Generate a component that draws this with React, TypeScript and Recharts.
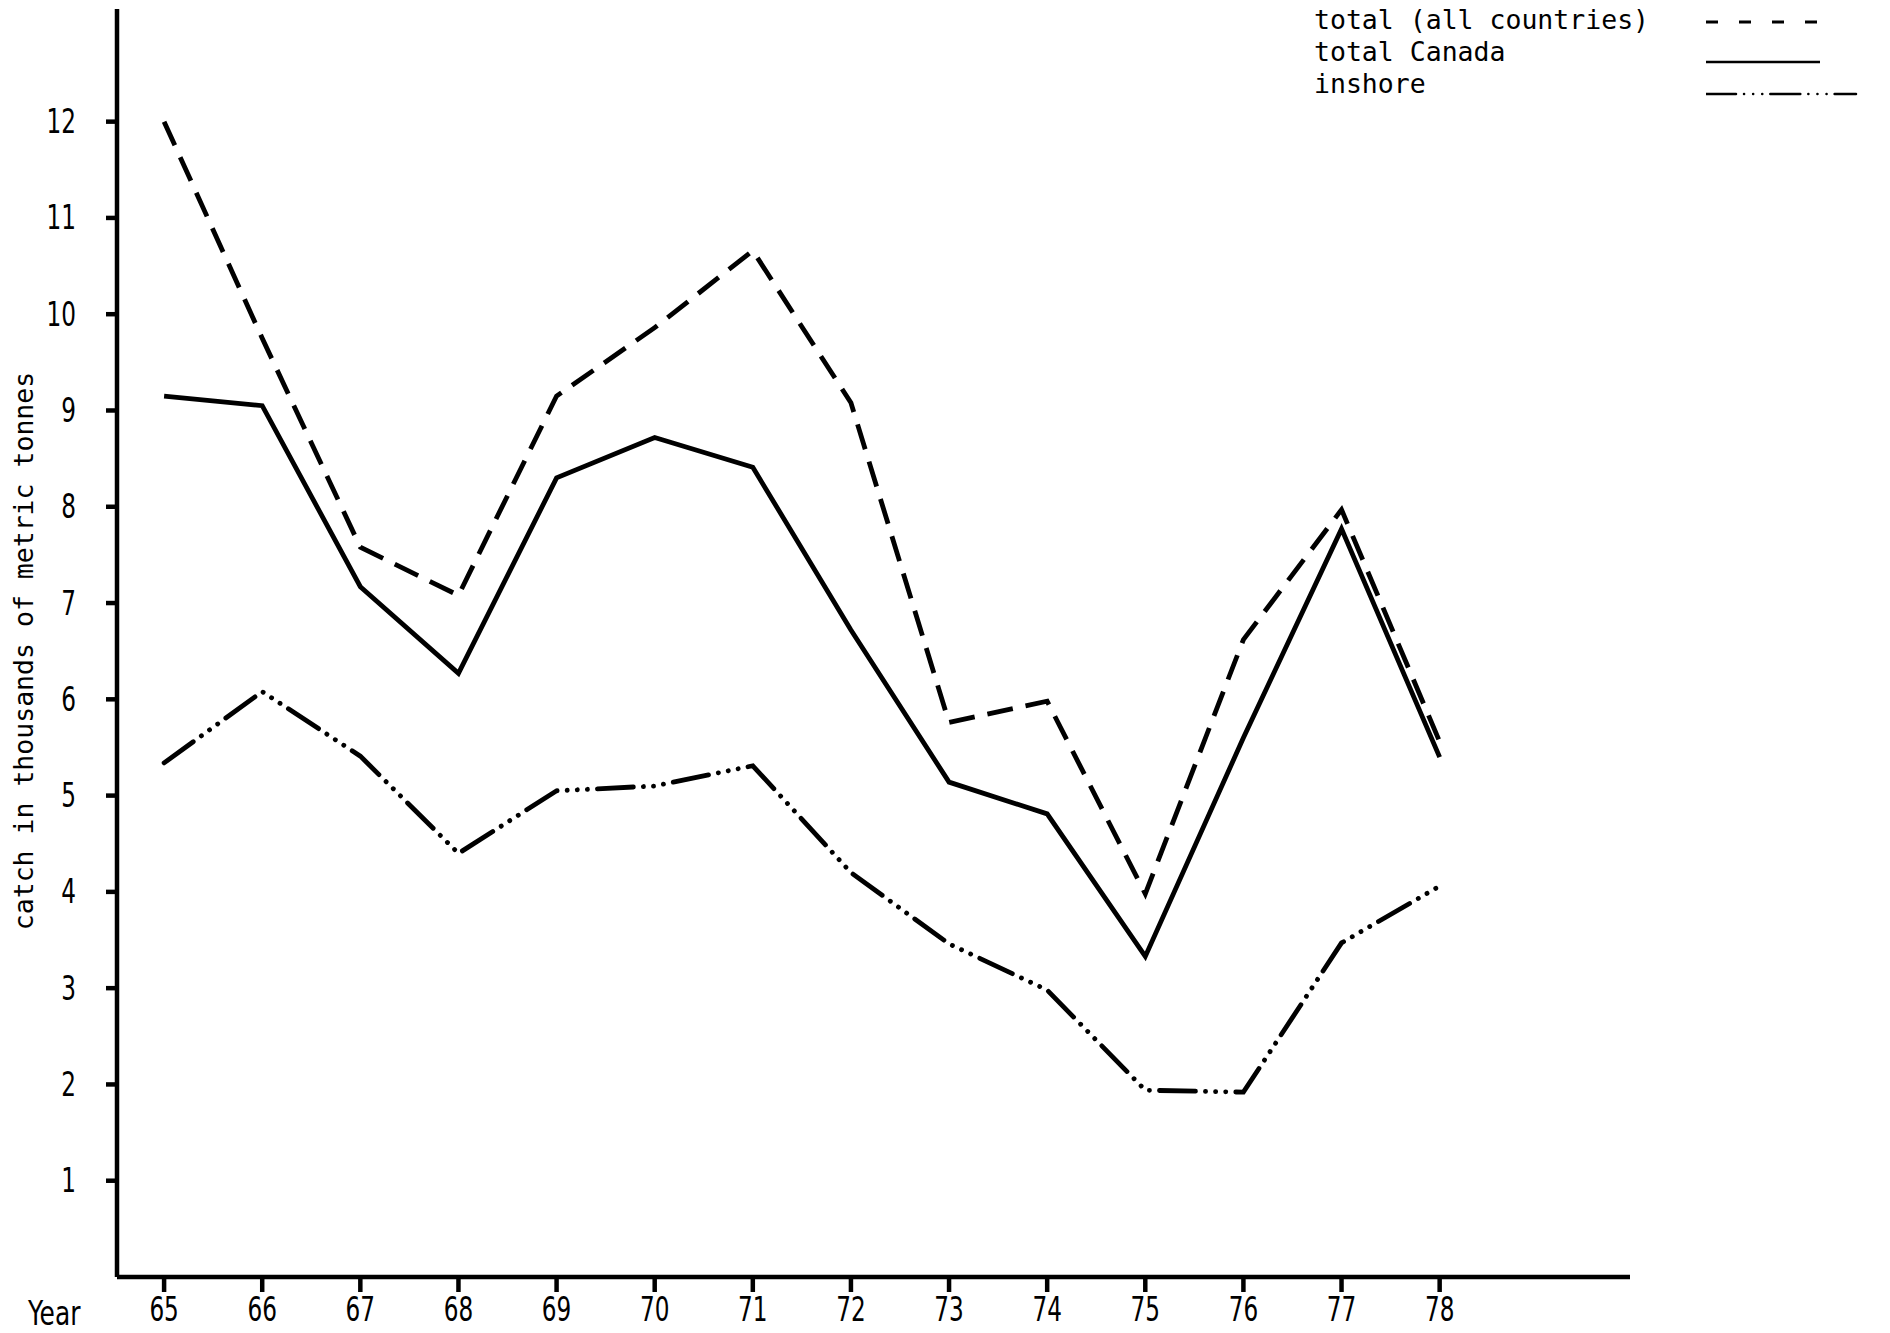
import React from 'react';
import { LineChart, Line, XAxis, YAxis } from 'recharts';

// years (19xx) and catch in thousands of metric tonnes
const years = [65, 66, 67, 68, 69, 70, 71, 72, 73, 74, 75, 76, 77, 78];
const totalAll = [12.0, 9.75, 7.58, 7.08, 9.15, 9.86, 10.66, 9.08, 5.76, 5.98, 3.98, 6.62, 7.97, 5.56];
const totalCanada = [9.15, 9.05, 7.17, 6.27, 8.3, 8.72, 8.41, 6.72, 5.14, 4.81, 3.33, 5.6, 7.77, 5.4];
const inshore = [5.34, 6.08, 5.41, 4.4, 5.05, 5.1, 5.31, 4.2, 3.46, 2.98, 1.94, 1.92, 3.47, 4.06];
const yTicks = [1, 2, 3, 4, 5, 6, 7, 8, 9, 10, 11, 12];

const data = years.map((year, i) => ({
    year,
    totalAll: totalAll[i],
    totalCanada: totalCanada[i],
    inshore: inshore[i],
}));

const tickFont = '"DejaVu Sans Condensed", "DejaVu Sans", sans-serif';
const monoFont = '"DejaVu Sans Mono", monospace';

const DASHED = '26 13';
const DASH_DOTS = '36 10 0.1 10 0.1 10 0.1 10';

const legendRows = [
    { label: 'total (all countries)', dash: '12 21', width: 111 },
    { label: 'total Canada', dash: undefined, width: 114 },
    { label: 'inshore', dash: '30 8 0.1 9 0.1 9 0.1 8', width: 150 },
];

// narrow, tall digits like the original lettering
const NarrowTick = ({ x, y, payload, anchor }: any) => (
    <g transform={`translate(${x},${y})`}>
        <text
            transform="scale(0.78,1)"
            textAnchor={anchor}
            dy={anchor === 'end' ? '0.35em' : '0.72em'}
            fontSize={33}
            fontFamily={tickFont}
            fill="#000"
        >
            {payload.value}
        </text>
    </g>
);

const LegendBox = () => (
    <div style={{ position: 'absolute', left: 1314, top: 0, width: 570, height: 110, fontFamily: monoFont, fontSize: 26.5, color: '#000' }}>
        {legendRows.map((row, i) => (
            <div key={row.label} style={{ position: 'absolute', left: 0, top: i * 32 + 4, lineHeight: '32px', whiteSpace: 'pre' }}>
                {row.label}
            </div>
        ))}
        <svg width={170} height={110} style={{ position: 'absolute', left: 392, top: 0 }}>
            {legendRows.map((row, i) => (
                <line
                    key={row.label}
                    x1={0}
                    x2={row.width}
                    y1={i === 0 ? 22 : i * 32 + 30}
                    y2={i === 0 ? 22 : i * 32 + 30}
                    stroke="#000"
                    strokeWidth={i === 0 ? 3 : 2.5}
                    strokeDasharray={row.dash}
                    strokeLinecap={i === 2 ? 'round' : 'butt'}
                />
            ))}
        </svg>
    </div>
);

const App: React.FC = () => {
    return (
        <div style={{ position: 'relative', width: 1890, height: 1333, background: '#fff' }}>
            <style>{`body{margin:0;background:#fff}`}</style>
            <LineChart
                width={1890}
                height={1333}
                data={data}
                margin={{ top: 9, right: 260, left: 0, bottom: 0 }}
            >
                <XAxis
                    dataKey="year"
                    type="number"
                    domain={[64.52, 79.94]}
                    ticks={years}
                    allowDataOverflow
                    height={56}
                    axisLine={{ stroke: '#000', strokeWidth: 4.5 }}
                    tickLine={{ stroke: '#000', strokeWidth: 4.5 }}
                    tickSize={15}
                    tickMargin={5}
                    tick={<NarrowTick anchor="middle" />}
                    label={{
                        content: ({ viewBox }: any) => (
                            <g transform={`translate(${viewBox.x - 89},${viewBox.y + 36})`}>
                                <text transform="scale(0.84,1)" dy="0.35em" fontSize={33} fontFamily={tickFont} fill="#000">
                                    Year
                                </text>
                            </g>
                        ),
                    }}
                />
                <YAxis
                    type="number"
                    domain={[0, 13.17]}
                    ticks={yTicks}
                    allowDataOverflow
                    width={117}
                    axisLine={{ stroke: '#000', strokeWidth: 4.5 }}
                    tickLine={{ stroke: '#000', strokeWidth: 4.5 }}
                    tickSize={11}
                    tickMargin={30}
                    tick={<NarrowTick anchor="end" />}
                    label={{
                        content: ({ viewBox }: any) => {
                            const cx = viewBox.x + 24;
                            const cy = viewBox.y + viewBox.height / 2 + 8;
                            return (
                                <text
                                    x={cx}
                                    y={cy}
                                    transform={`rotate(-90, ${cx}, ${cy})`}
                                    textAnchor="middle"
                                    dy="0.35em"
                                    fontSize={26.5}
                                    fontFamily={monoFont}
                                    fill="#000"
                                >
                                    catch in thousands of metric tonnes
                                </text>
                            );
                        },
                    }}
                />
                <Line
                    type="linear"
                    dataKey="totalAll"
                    stroke="#000"
                    strokeWidth={4.8}
                    strokeDasharray={DASHED}
                    dot={false}
                    activeDot={false}
                    isAnimationActive={false}
                />
                <Line
                    type="linear"
                    dataKey="totalCanada"
                    stroke="#000"
                    strokeWidth={4.8}
                    dot={false}
                    activeDot={false}
                    isAnimationActive={false}
                />
                <Line
                    type="linear"
                    dataKey="inshore"
                    stroke="#000"
                    strokeWidth={4.8}
                    strokeDasharray={DASH_DOTS}
                    strokeLinecap="round"
                    dot={false}
                    activeDot={false}
                    isAnimationActive={false}
                />
            </LineChart>
            <LegendBox />
        </div>
    );
};

export default App;
